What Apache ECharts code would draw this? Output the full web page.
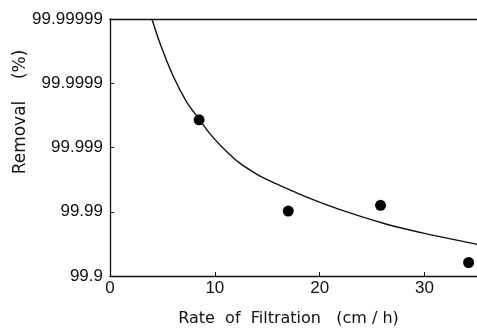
<!DOCTYPE html>
<html>
<head>
<meta charset="utf-8">
<script src="https://cdn.jsdelivr.net/npm/echarts@6/dist/echarts.min.js"></script>
<style>
  html, body { margin: 0; padding: 0; background: #fff; }
  #chart { width: 477px; height: 332px; }
</style>
</head>
<body>
<div id="chart"></div>
<script>
// y is plotted as log reduction: 3 -> 99.9 %, 7 -> 99.99999 %
const yTickLabels = ['99.9', '99.99', '99.999', '99.9999', '99.99999'];
const xTicks = [0, 10, 20, 30];

// measured points
const obsRate = [8.5, 17.0, 25.8, 34.2];
const obsLogRemoval = [5.43, 4.01, 4.10, 3.21];

// fitted curve
const curveRate = [4.0, 4.75, 6.0, 7.3, 8.55, 9.6, 10.8, 12.35, 13.9, 15.5, 17.1, 18.7, 21.8, 26.3, 30.1, 34.8, 35];
const curveLogRemoval = [7.0, 6.63, 6.12, 5.71, 5.43, 5.2, 4.99, 4.76, 4.595, 4.46, 4.345, 4.23, 4.04, 3.81, 3.66, 3.50, 3.49];

const font = 'Liberation Sans, Arial, sans-serif';
const titleFont = 'DejaVu Sans, sans-serif';
const chart = echarts.init(document.getElementById('chart'));

chart.setOption({
  animation: false,
  backgroundColor: '#fff',
  grid: { left: 110, right: -1, top: 19, bottom: 52 },
  xAxis: [
    {
      type: 'value',
      min: 0,
      max: 35,
      interval: 10,
      name: 'Rate  of  Filtration   (cm / h)',
      nameLocation: 'middle',
      nameGap: 35,
      nameTextStyle: { color: '#111', fontSize: 16, fontFamily: titleFont, padding: [0, 10, 0, 0] },
      axisLine: { lineStyle: { color: '#111', width: 1.3 } },
      axisTick: { inside: true, length: 4, lineStyle: { color: '#111' } },
      axisLabel: {
        color: '#111', fontSize: 17, fontFamily: font, margin: 4,
        showMaxLabel: false,
        formatter: (v) => (xTicks.indexOf(v) >= 0 ? String(v) : '')
      },
      splitLine: { show: false }
    },
    {
      type: 'value',
      position: 'top',
      min: 0,
      max: 35,
      axisLine: { lineStyle: { color: '#111', width: 1.3 } },
      axisTick: { show: false },
      axisLabel: { show: false },
      splitLine: { show: false }
    }
  ],
  yAxis: {
    type: 'value',
    min: 3,
    max: 7,
    interval: 1,
    axisLine: { show: true, lineStyle: { color: '#111', width: 1.3 } },
    axisTick: { show: true, inside: true, length: 4, lineStyle: { color: '#111' } },
    axisLabel: {
      color: '#111', fontSize: 17, fontFamily: font, margin: 7,
      formatter: (v) => yTickLabels[Math.round(v) - 3]
    },
    splitLine: { show: false }
  },
  graphic: [
    {
      type: 'text',
      x: 21,
      y: 112,
      rotation: Math.PI / 2,
      style: {
        text: 'Removal    (%)',
        fill: '#111',
        font: '17px ' + titleFont,
        textAlign: 'center',
        textVerticalAlign: 'middle'
      }
    }
  ],
  series: [
    {
      name: 'curve',
      type: 'line',
      data: curveRate.map((x, i) => [x, curveLogRemoval[i]]),
      smooth: 0.3,
      showSymbol: false,
      clip: true,
      lineStyle: { color: '#111', width: 1.4 }
    },
    {
      name: 'observed',
      type: 'scatter',
      data: obsRate.map((x, i) => [x, obsLogRemoval[i]]),
      symbolSize: 11,
      itemStyle: { color: '#000', opacity: 1 }
    }
  ]
});
</script>
</body>
</html>
